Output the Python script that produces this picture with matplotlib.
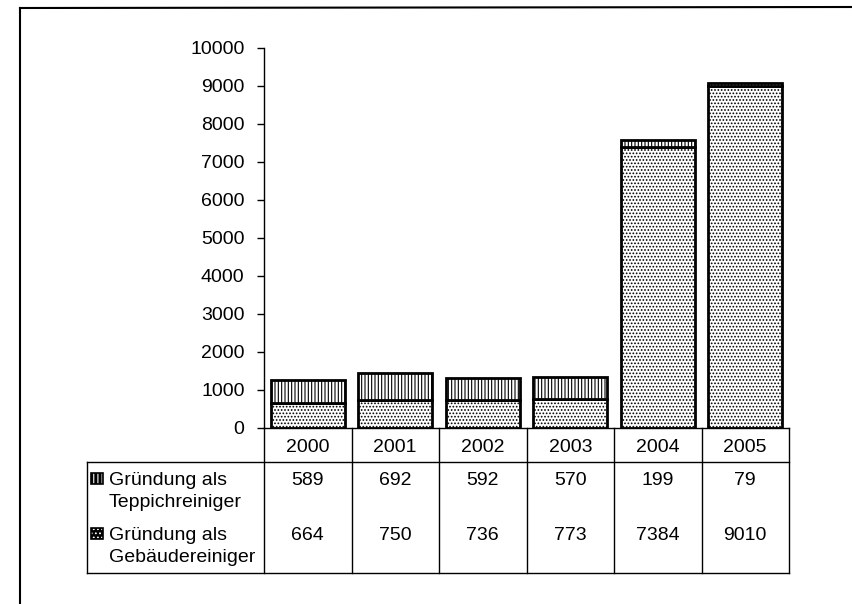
import matplotlib
matplotlib.use("Agg")
import matplotlib.pyplot as plt
from matplotlib.patches import Rectangle
from matplotlib.lines import Line2D

# Data
years = ["2000", "2001", "2002", "2003", "2004", "2005"]
teppich = [589, 692, 592, 570, 199, 79]
gebaeude = [664, 750, 736, 773, 7384, 9010]
row_labels = ["Gründung als\nTeppichreiniger", "Gründung als\nGebäudereiniger"]
yticks = [0, 1000, 2000, 3000, 4000, 5000, 6000, 7000, 8000, 9000, 10000]

plt.rcParams['font.family'] = ['Liberation Sans', 'DejaVu Sans']
plt.rcParams['font.size'] = 14
plt.rcParams['hatch.linewidth'] = 0.8

W, H = 852, 604
fig = plt.figure(figsize=(W / 100, H / 100), dpi=100)


def fx(px):
    return px / W


def fy(py):
    return 1 - py / H


# Layout (pixels)
X0, X1 = 264, 789
Y_TOP, Y_ZERO, Y_HDR, Y_BOT = 48, 428, 462, 573
TAB_LEFT = 87

bar_hatch = ['|||||', '.....']
key_hatch = ['||||', '....']

# Chart area
ax = fig.add_axes([fx(X0), fy(Y_ZERO), fx(X1) - fx(X0), fy(Y_TOP) - fy(Y_ZERO)])
xs = list(range(len(years)))
ax.bar(xs, gebaeude, width=0.85, color='white', edgecolor='black',
       linewidth=2.0, hatch=bar_hatch[1])
ax.bar(xs, teppich, bottom=gebaeude, width=0.85, color='white',
       edgecolor='black', linewidth=2.0, hatch=bar_hatch[0])
ax.set_xlim(-0.5, len(years) - 0.5)
ax.set_ylim(0, 10000)
ax.set_yticks(yticks)
ax.set_yticklabels([str(v) for v in yticks])
ax.tick_params(axis='y', length=5, width=1, pad=9, labelsize=14)
ax.set_xticks([])
for s in ('top', 'right'):
    ax.spines[s].set_visible(False)
ax.spines['left'].set_linewidth(1.0)
ax.spines['bottom'].set_linewidth(1.0)

# Data table below the chart (y measured in pixel rows, top to bottom)
tab = fig.add_axes([fx(X0), fy(Y_BOT), fx(X1) - fx(X0), fy(Y_ZERO) - fy(Y_BOT)])
tab.set_xlim(-0.5, len(years) - 0.5)
tab.set_ylim(Y_BOT, Y_ZERO)
tab.axis('off')
col_w = (X1 - X0) / len(years)
xl = -0.5 + (TAB_LEFT - X0) / col_w


def hline(y, xa, xb):
    tab.add_line(Line2D([xa, xb], [y, y], color='black', lw=1.0, clip_on=False))


def vline(x, ya, yb):
    tab.add_line(Line2D([x, x], [ya, yb], color='black', lw=1.0, clip_on=False))


for i in range(len(years) + 1):
    vline(i - 0.5, Y_ZERO, Y_BOT)
vline(xl, Y_HDR, Y_BOT)
hline(Y_HDR, xl, len(years) - 0.5)
hline(Y_BOT, xl, len(years) - 0.5)

row_base = [485, 540]
line_step = 22
txt = dict(fontsize=14, va='baseline', clip_on=False)
for i, yr in enumerate(years):
    tab.text(i, 452, yr, ha='center', **txt)
    tab.text(i, row_base[0], str(teppich[i]), ha='center', **txt)
    tab.text(i, row_base[1], str(gebaeude[i]), ha='center', **txt)

key_x = xl + 4 / col_w
text_x = xl + 22 / col_w
for j, lab in enumerate(row_labels):
    base = row_base[j]
    kx, ky, kw, kh = key_x, base - 12, 12 / col_w, 11
    tab.add_patch(Rectangle((kx, ky), kw, kh, facecolor='black',
                            edgecolor='white', lw=0, hatch=key_hatch[j],
                            clip_on=False))
    tab.add_patch(Rectangle((kx, ky), kw, kh, facecolor='none',
                            edgecolor='black', lw=1.2, clip_on=False))
    for k, line in enumerate(lab.split('\n')):
        tab.text(text_x, base + k * line_step, line, ha='left', **txt)

# Outer frame
fig.add_artist(Line2D([fx(20), fx(20)], [fy(8), fy(604)], color='black', lw=1.5,
                      transform=fig.transFigure))
fig.add_artist(Line2D([fx(20), fx(852)], [fy(8), fy(7)], color='black', lw=1.5,
                      transform=fig.transFigure))

fig.savefig("out.png", dpi=100)
